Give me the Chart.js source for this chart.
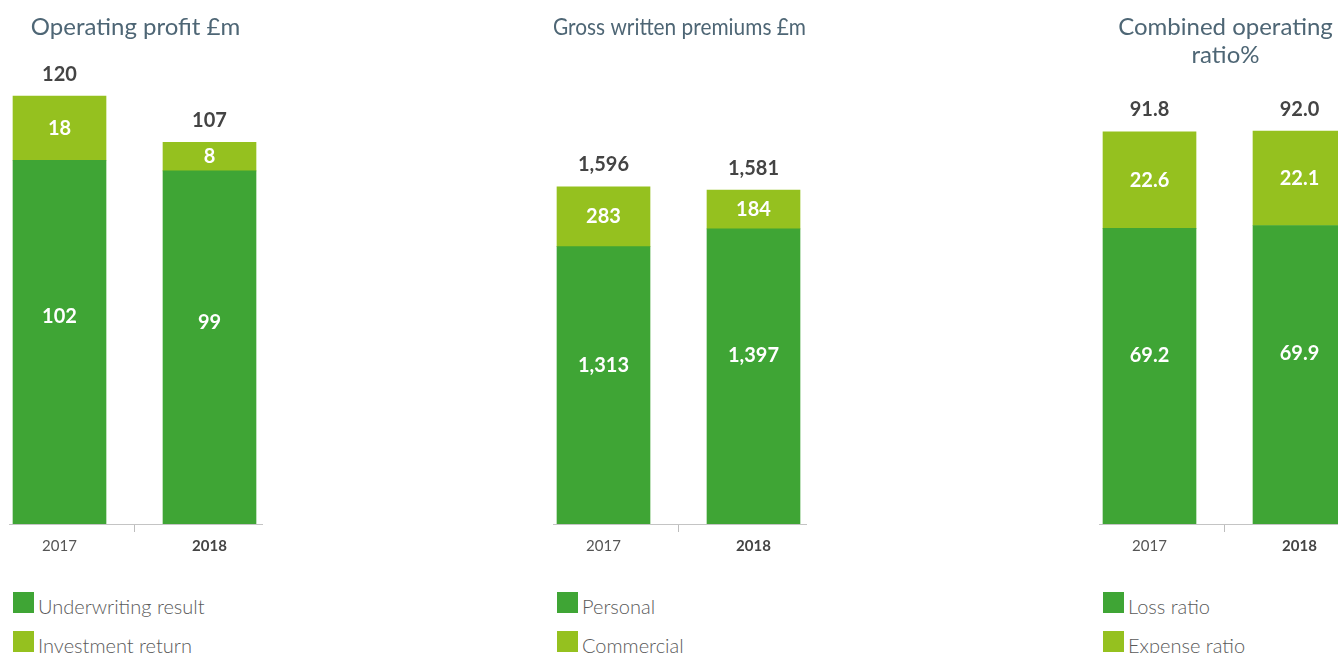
<!DOCTYPE html>
<html>
<head>
<meta charset="utf-8">
<script src="https://cdn.jsdelivr.net/npm/chart.js@4"></script>
<style>
  body { margin: 0; background: #fff; overflow: hidden; width: 1338px; height: 653px; position: relative; font-family: Lato, sans-serif; }
  .panel { position: absolute; top: 0; width: 280px; height: 653px; }
  .panel canvas { position: absolute; left: 0; top: 0; }
  .legend { position: absolute; top: 592px; left: 13px; }
  .legend div { height: 21px; margin-bottom: 18px; display: flex; align-items: center; white-space: nowrap; }
  .legend span.box { display: inline-block; width: 21px; height: 21px; margin-right: 4px; }
  .legend span.txt { font-size: 20px; font-weight: 300; color: #5a5a5a; position: relative; top: 3px; }
</style>
</head>
<body>
<div class="panel" style="left:0px"><canvas id="c1" width="280" height="565"></canvas><div class="legend" id="l1"></div></div>
<div class="panel" style="left:544px"><canvas id="c2" width="280" height="565"></canvas><div class="legend" id="l2"></div></div>
<div class="panel" style="left:1090px"><canvas id="c3" width="280" height="565"></canvas><div class="legend" id="l3"></div></div>
<script>
const years = ['2017', '2018'];

// Operating profit £m
const underwriting = [102, 99];
const investment = [18, 8];

// Gross written premiums £m
const personal = [1313, 1397];
const commercial = [283, 184];

// Combined operating ratio %
const lossRatio = [69.2, 69.9];
const expenseRatio = [22.6, 22.1];

const darkGreen = '#3fa535';
const lightGreen = '#95c11f';

Chart.defaults.font.family = 'Lato, sans-serif';

function fmt(v, d) {
  return v.toLocaleString('en-GB', { minimumFractionDigits: d, maximumFractionDigits: d });
}

// draws the numbers inside the segments and the totals on top
const barLabels = {
  id: 'barLabels',
  afterDatasetsDraw(chart, args, opts) {
    const ctx = chart.ctx;
    const d = opts.decimals || 0;
    ctx.save();
    ctx.textAlign = 'center';
    ctx.textBaseline = 'middle';
    ctx.font = 'bold 20px Lato, sans-serif';
    const nSets = chart.data.datasets.length;
    const totals = [];
    chart.data.datasets.forEach((ds, di) => {
      const meta = chart.getDatasetMeta(di);
      meta.data.forEach((bar, i) => {
        const v = ds.data[i].y;
        totals[i] = (totals[i] || 0) + v;
        const frac = di === 0 ? 0.57 : 0.5;
        const y = bar.base - frac * (bar.base - bar.y);
        ctx.fillStyle = '#fff';
        ctx.fillText(fmt(v, d), bar.x, y);
        if (di === nSets - 1) {
          ctx.fillStyle = '#444';
          ctx.fillText(fmt(totals[i], d), bar.x, bar.y - 22);
        }
      });
    });
    ctx.restore();
  }
};

function makeChart(id, legendId, title, names, series, yMax, decimals) {
  const datasets = series.map((vals, k) => ({
    label: names[k],
    data: years.map((y, i) => ({ x: i, y: vals[i] })),
    backgroundColor: k === 0 ? darkGreen : lightGreen,
    barThickness: 93
  }));

  const chart = new Chart(document.getElementById(id), {
    type: 'bar',
    data: { datasets: datasets },
    plugins: [barLabels],
    options: {
      responsive: false,
      animation: false,
      layout: { padding: { left: 9, right: 18, top: 0, bottom: 5 } },
      plugins: {
        legend: { display: false },
        tooltip: { enabled: false },
        title: {
          display: true,
          text: title,
          color: '#4e6675',
          font: { size: 24, weight: 'normal', lineHeight: 1.167 },
          padding: { top: 13, bottom: 39 }
        },
        barLabels: { decimals: decimals }
      },
      scales: {
        x: {
          type: 'linear',
          stacked: true,
          offset: false,
          min: -0.3367,
          max: 1.35,
          afterBuildTicks: (scale) => {
            scale.ticks = [{ value: 0 }, { value: 0.5 }, { value: 1 }];
          },
          grid: {
            offset: false,
            drawOnChartArea: false,
            drawTicks: true,
            tickLength: 8,
            color: (c) => (c.tick && c.tick.value === 0.5) ? '#bdbdbd' : 'rgba(0,0,0,0)'
          },
          border: { display: true, color: '#c4c4c4' },
          ticks: {
            autoSkip: false,
            maxRotation: 0,
            padding: 5,
            callback: (v) => v === 0 ? years[0] : (v === 1 ? years[1] : ''),
            color: (c) => (c.tick && c.tick.value === 1) ? '#444' : '#555',
            font: (c) => ({ size: 15, weight: (c.tick && c.tick.value === 1) ? 'bold' : 'normal' })
          }
        },
        y: {
          stacked: true,
          display: false,
          min: 0,
          max: yMax
        }
      }
    }
  });

  document.getElementById(legendId).innerHTML = chart.data.datasets.map(ds =>
    `<div><span class="box" style="background:${ds.backgroundColor}"></span><span class="txt">${ds.label}</span></div>`
  ).join('');
  return chart;
}

makeChart('c1', 'l1', 'Operating profit £m', ['Underwriting result', 'Investment return'],
  [underwriting, investment], 124.5, 0);
makeChart('c2', 'l2', 'Gross written premiums £m', ['Personal', 'Commercial'],
  [personal, commercial], 2102, 0);
makeChart('c3', 'l3', ['Combined operating', 'ratio%'], ['Loss ratio', 'Expense ratio'],
  [lossRatio, expenseRatio], 97.4, 1);
</script>
</body>
</html>
